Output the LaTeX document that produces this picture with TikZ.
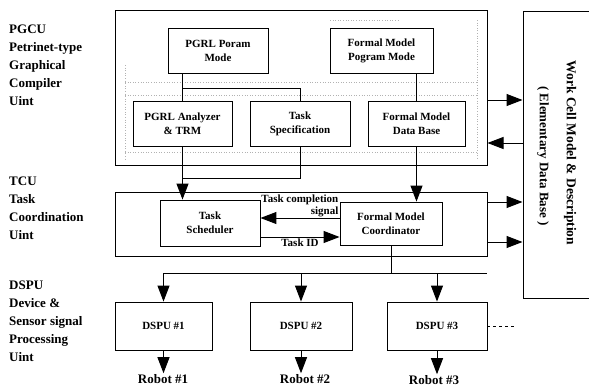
\documentclass[tikz,border=0pt]{standalone}
\usepackage{fontspec}
\setmainfont{Liberation Serif}
\usetikzlibrary{arrows.meta, positioning, calc}
\tikzset{
  marco/.style={draw, line width=1pt, inner sep=0pt},
  bloque/.style={draw, line width=0.9pt, inner sep=1pt, align=center,
                 minimum width=#1, minimum height=45pt, font=\bfseries\fontsize{11}{14}\selectfont},
  bloque/.default=100pt,
  flecha/.style={-{Triangle[length=16pt, width=12pt]}, line width=1pt},
  linea/.style={line width=1pt},
  rotulo/.style={align=left, anchor=north west, inner sep=0pt, font=\bfseries\fontsize{13}{18}\selectfont},
  etiqueta/.style={inner sep=1pt, font=\bfseries\fontsize{11}{12}\selectfont},
  robot/.style={inner sep=1pt, font=\bfseries\fontsize{13}{15}\selectfont},
  puntos/.style={gray!60, dotted, line width=0.6pt},
}

\begin{document}
\begin{tikzpicture}[x=1pt, y=-1pt]
  \useasboundingbox (0,0) rectangle (589,388);

  % unit names on the left
  \node[rotulo] (pgcuL) at (9,24.4) {PGCU\\Petrinet-type\\Graphical\\Compiler\\Uint};
  \node[rotulo] (tcuL) at (9,176.4) {TCU\\Task\\Coordination\\Uint};
  \node[rotulo] (dspuL) at (9,280.4) {DSPU\\Device \&\\Sensor signal\\Processing\\Uint};

  % compiler unit
  \node[marco, minimum width=372pt, minimum height=155pt] (pgcu) at (301,87.5) {};
  \draw[puntos] (125,82) -- (477,82);
  \draw[puntos] (125,95) -- (477,95);
  \draw[puntos] (125,152) -- (477,152);
  \draw[puntos] (125,65) -- (125,160);
  \draw[puntos] (477,20) -- (477,160);
  \draw[puntos] (330,20) -- (400,20);
  \node[bloque] (poram) at (218,50.5) {PGRL Poram\\Mode};
  \node[bloque=103pt] (fmpm) at (381.5,50.5) {Formal Model\\Pogram Mode};
  \node[bloque=99pt] (analizador) at (182.5,123.5) {PGRL Analyzer\\\& TRM};
  \node[bloque] (tarea) at (300,123.5) {Task\\Specification};
  \node[bloque=97pt] (fmdb) at (416.5,123.5) {Formal Model\\Data Base};

  % coordination unit
  \node[marco, minimum width=372pt, minimum height=64pt] (tcu) at (301,224) {};
  \node[bloque, minimum height=46pt] (sched) at (210,223) {Task\\Scheduler};
  \node[bloque=102pt, minimum height=43pt] (coord) at (391,223.5) {Formal Model\\Coordinator};

  % device units and robots
  \node[bloque=97pt, minimum height=48pt] (dspu1) at (163.5,326) {DSPU \#1};
  \node[bloque=102pt, minimum height=48pt] (dspu2) at (301,326) {DSPU \#2};
  \node[bloque=100pt, minimum height=48pt] (dspu3) at (437,326) {DSPU \#3};
  \node[robot] (robot1) at (163,379) {Robot \#1};
  \node[robot] (robot2) at (305,379) {Robot \#2};
  \node[robot] (robot3) at (434,380) {Robot \#3};

  % work cell data base
  \node[marco, minimum width=100pt, minimum height=287pt] (celda) at (573,154.5) {};
  \node[rotate=-90, inner sep=0pt, font=\bfseries\fontsize{13.5}{15}\selectfont] (titulo) at (570,153) {Work Cell Model \& Description};
  \node[rotate=-90, inner sep=0pt, font=\bfseries\fontsize{13}{15}\selectfont] (subtitulo) at (543,156) {( Elementary Data Base )};

  % links inside the compiler
  \draw[linea] (analizador.north |- poram.south) -- (analizador.north);
  \draw[linea] ([yshift=12pt]analizador.north) -| (tarea.north);
  \draw[linea] (fmdb.north |- fmpm.south) -- (fmdb.north);
  \draw[linea] (tarea.south) |- ([yshift=-32pt]analizador.south);
  \draw[flecha] (analizador.south) -- (analizador.south |- sched.north);
  \draw[flecha] (fmdb.south) -- (fmdb.south |- coord.north);

  % scheduler <-> coordinator
  \draw[flecha] ([yshift=5.5pt]coord.west) -- ([yshift=5.5pt]coord.west -| sched.east);
  \node[etiqueta, anchor=south east, align=right] (completion) at ([yshift=5.5pt]coord.west) {Task completion\\signal};
  \draw[flecha] ([yshift=-14pt]sched.east) -- ([yshift=-14pt]sched.east -| coord.west)
    node[etiqueta, midway, below] (id) {Task ID};

  % to the work cell
  \draw[flecha] ([yshift=-12.5pt]pgcu.east) -- ([yshift=-12.5pt]pgcu.east -| celda.west);
  \draw[flecha] ([yshift=-55.5pt]pgcu.east -| celda.west) -- ([yshift=-55.5pt]pgcu.east);
  \draw[flecha] ([yshift=22pt]tcu.east) -- ([yshift=22pt]tcu.east -| celda.west);
  \draw[flecha] ([yshift=-18pt]tcu.east) -- ([yshift=-18pt]tcu.east -| celda.west);

  % bus to the device units
  \draw[linea] (coord.south) -- ++(0,28) coordinate (bus);
  \draw[linea] (bus -| dspu1.north) -- (bus -| dspu3.east);
  \foreach \d in {dspu1,dspu2,dspu3}
    \draw[flecha] (bus -| \d.north) -- (\d.north);
  \foreach \i in {1,2,3}
    \draw[flecha] (dspu\i.south) -- (dspu\i.south |- robot\i.north);
  \draw[dashed, line width=0.6pt] (dspu3.east) -- ++(28,0) coordinate (mas);
\end{tikzpicture}
\end{document}
